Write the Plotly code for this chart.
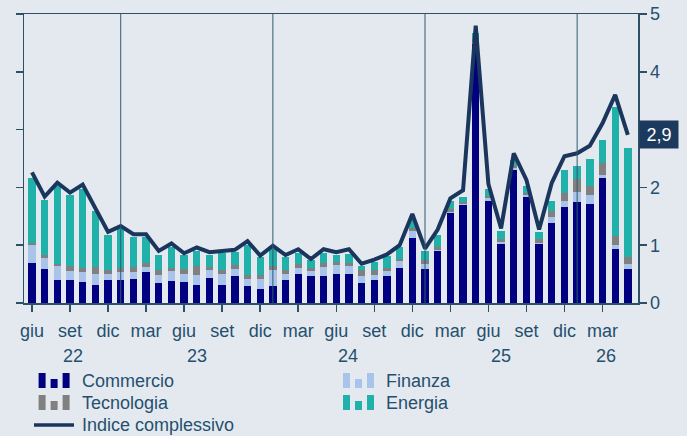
import plotly.graph_objects as go

# ---- data ----
months = ["giu", "lug", "ago", "set", "ott", "nov", "dic",
          "gen", "feb", "mar", "apr", "mag", "giu", "lug", "ago", "set", "ott", "nov", "dic",
          "gen", "feb", "mar", "apr", "mag", "giu", "lug", "ago", "set", "ott", "nov", "dic",
          "gen", "feb", "mar", "apr", "mag", "giu", "lug", "ago", "set", "ott", "nov", "dic",
          "gen", "feb", "mar", "apr", "mag"]
years = ["22", "23", "24", "25", "26"]
year_label_pos = [3.2, 13.0, 24.9, 37.0, 45.3]
year_start_idx = [7, 19, 31, 43]

commercio = [0.69, 0.58, 0.39, 0.39, 0.36, 0.32, 0.39,
             0.39, 0.42, 0.53, 0.34, 0.38, 0.36, 0.31, 0.43, 0.32, 0.46, 0.29, 0.24,
             0.29, 0.39, 0.50, 0.46, 0.46, 0.51, 0.50, 0.34, 0.39, 0.46, 0.60, 1.12,
             0.58, 0.90, 1.56, 1.69, 4.48, 1.76, 1.02, 2.30, 1.84, 1.02, 1.39, 1.66,
             1.75, 1.71, 2.17, 0.94, 0.59]
finanza = [0.31, 0.19, 0.25, 0.16, 0.17, 0.18, 0.11,
           0.14, 0.12, 0.09, 0.14, 0.17, 0.14, 0.17, 0.14, 0.18, 0.12, 0.12, 0.17,
           0.28, 0.12, 0.10, 0.09, 0.16, 0.14, 0.14, 0.12, 0.09, 0.09, 0.12, 0.13,
           0.09, 0.01, 0.02, 0.02, 0.04, 0.05, 0.03, 0.04, 0.03, 0.02, 0.09, 0.10,
           0.17, 0.16, 0.04, 0.06, 0.09]
tecnologia = [0.04, 0.06, 0.04, 0.09, 0.08, 0.12, 0.07,
              0.08, 0.08, 0.07, 0.09, 0.06, 0.08, 0.16, 0.05, 0.07, 0.07, 0.07, 0.07,
              0.07, 0.06, 0.07, 0.05, 0.07, 0.06, 0.05, 0.11, 0.09, 0.05, 0.04, 0.05,
              0.08, 0.06, 0.04, 0.03, 0.03, 0.04, 0.05, 0.05, 0.04, 0.06, 0.11, 0.15,
              0.22, 0.16, 0.21, 0.16, 0.11]
energia = [1.12, 0.95, 1.34, 1.22, 1.37, 0.97, 0.60,
           0.67, 0.52, 0.45, 0.26, 0.36, 0.25, 0.26, 0.21, 0.29, 0.23, 0.52, 0.32,
           0.30, 0.22, 0.20, 0.15, 0.18, 0.12, 0.15, 0.07, 0.14, 0.21, 0.21, 0.13,
           0.15, 0.20, 0.14, 0.10, 0.12, 0.13, 0.14, 0.09, 0.12, 0.13, 0.17, 0.39,
           0.23, 0.47, 0.40, 2.23, 1.90]
indice = [2.26, 1.84, 2.08, 1.91, 2.05, 1.63, 1.23,
          1.33, 1.19, 1.19, 0.90, 1.03, 0.86, 0.96, 0.88, 0.90, 0.92, 1.07, 0.82,
          0.99, 0.83, 0.93, 0.76, 0.93, 0.88, 0.93, 0.68, 0.75, 0.84, 1.00, 1.54,
          0.94, 1.27, 1.81, 1.95, 4.80, 2.06, 1.29, 2.59, 2.13, 1.27, 2.08, 2.54,
          2.59, 2.72, 3.11, 3.60, 2.91]
last_label = "2,9"

x = list(range(len(months)))
tick_idx = list(range(0, len(months), 3))
tick_txt = [months[i] for i in tick_idx]

# ---- style ----
C_COM = "#000080"
C_FIN = "#A9C4EA"
C_TEC = "#808080"
C_ENE = "#20B2AA"
C_LINE = "#1B365D"
C_AX = "#2C5066"
C_TXT = "#24506E"
BG = "#E4E9F0"
FONT = "Liberation Sans, Arial, sans-serif"

W, H = 687, 436
L, R, T, B = 24, 49, 14, 133
PW, PH = W - L - R, H - T - B


def px(xp):
    return (xp - L) / PW


def py(yp):
    return (H - B - yp) / PH


fig = go.Figure()
for name, vals, col in [("Commercio", commercio, C_COM), ("Finanza", finanza, C_FIN),
                        ("Tecnologia", tecnologia, C_TEC), ("Energia", energia, C_ENE)]:
    fig.add_trace(go.Bar(x=x, y=vals, name=name, marker=dict(color=col, line=dict(width=0)),
                         showlegend=False))
fig.add_trace(go.Scatter(x=x, y=indice, name="Indice complessivo", mode="lines",
                         line=dict(color=C_LINE, width=4), showlegend=False))

shapes = []
for i in year_start_idx:
    shapes.append(dict(type="line", xref="x", yref="paper", x0=i, x1=i, y0=0, y1=1,
                       line=dict(color="#2F5A70", width=1), layer="above"))

annotations = []
for lab, pos in zip(years, year_label_pos):
    annotations.append(dict(text=lab, x=pos, xref="x", y=py(356), yref="paper",
                            showarrow=False, xanchor="center", yanchor="middle",
                            font=dict(size=18, color=C_TXT, family=FONT)))

annotations.append(dict(text=last_label, x=1, xref="paper", y=indice[-1], yref="y",
                        xanchor="left", yanchor="middle", xshift=1, showarrow=False,
                        bgcolor="#1C3A5E", borderpad=3, width=32, height=21,
                        font=dict(size=18, color="white", family=FONT)))

# ---- custom legend (three-bar icons) ----
legend_items = [("Commercio", C_COM, 38.6, 381), ("Finanza", C_FIN, 343, 381),
                ("Tecnologia", C_TEC, 38.6, 403), ("Energia", C_ENE, 343, 403)]
for name, col, x0, yc in legend_items:
    bottom = yc + 7
    for dx, hgt in [(0, 15), (12, 9), (24, 15)]:
        shapes.append(dict(type="rect", xref="paper", yref="paper",
                           x0=px(x0 + dx), x1=px(x0 + dx + 7), y0=py(bottom), y1=py(bottom - hgt),
                           fillcolor=col, line=dict(width=0), layer="above"))
    annotations.append(dict(text=name, x=px(x0 + 41), xref="paper", y=py(yc), yref="paper",
                            xanchor="left", yanchor="middle", showarrow=False,
                            font=dict(size=18, color=C_TXT, family=FONT)))
shapes.append(dict(type="line", xref="paper", yref="paper", x0=px(34), x1=px(74),
                   y0=py(425), y1=py(425), line=dict(color=C_LINE, width=3.5)))
annotations.append(dict(text="Indice complessivo", x=px(79.5), xref="paper", y=py(425), yref="paper",
                        xanchor="left", yanchor="middle", showarrow=False,
                        font=dict(size=18, color=C_TXT, family=FONT)))

fig.update_layout(
    width=W, height=H,
    margin=dict(l=L, r=R, t=T, b=B, autoexpand=False),
    paper_bgcolor=BG, plot_bgcolor=BG,
    barmode="stack", bargap=0.42,
    font=dict(family=FONT, size=18, color=C_TXT),
    showlegend=False, hovermode=False,
    shapes=shapes, annotations=annotations,
    xaxis=dict(range=[-0.63, 47.8], tickmode="array", tickvals=tick_idx, ticktext=tick_txt,
               showline=True, linecolor=C_AX, linewidth=1.5, mirror=True,
               ticks="outside", ticklen=7, tickcolor=C_AX, tickwidth=1.5,
               showgrid=False, zeroline=False, ticklabelstandoff=4, automargin=False,
               tickfont=dict(size=18, color=C_TXT, family=FONT)),
    yaxis=dict(range=[0, 5], side="right", dtick=1, tick0=0,
               showline=True, linecolor=C_AX, linewidth=1.5, mirror=False,
               ticks="outside", ticklen=7, tickcolor=C_AX, tickwidth=1.5,
               showgrid=False, zeroline=False, automargin=False,
               tickfont=dict(size=18, color=C_TXT, family=FONT)),
    yaxis2=dict(range=[0, 5], side="left", overlaying="y", dtick=1, tick0=0,
                showline=True, linecolor=C_AX, linewidth=1.5,
                ticks="outside", ticklen=7, tickcolor=C_AX, tickwidth=1.5,
                showticklabels=False, showgrid=False, zeroline=False, automargin=False),
)
# invisible anchor trace so the left axis (ticks only) is drawn
fig.add_trace(go.Scatter(x=[x[0]], y=[0], yaxis="y2", mode="markers",
                         marker=dict(opacity=0), showlegend=False, hoverinfo="skip"))

fig.write_html(
    "out.html",
    config={"displayModeBar": False, "staticPlot": True},
    post_script="document.body.style.margin='0';document.body.style.background='" + BG + "';",
)
